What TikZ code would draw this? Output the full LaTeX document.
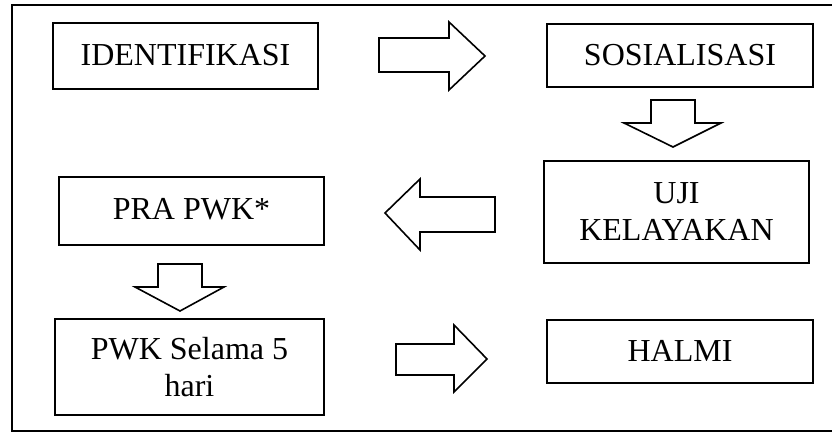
\documentclass[tikz,border=0pt]{standalone}
\usepackage{fontspec}
\setmainfont{Liberation Serif}
\begin{document}
\begin{tikzpicture}[x=1pt,y=-1pt,
  box/.style={draw, line width=1.7pt, inner sep=0pt, align=center, font=\fontsize{32}{37}\selectfont},
  blockarrow/.style={draw, line width=1.6pt, line join=miter}]
\useasboundingbox (0,0) rectangle (832,433);
% outer frame (right side outside the picture)
\draw[line width=1.8pt] (834,5) -- (12,5) -- (12,431) -- (834,431);
% boxes
\node[box, minimum width=265pt, minimum height=66pt] (ident) at (185.5,56) {\raisebox{3pt}{IDENTIFIKASI}};
\node[box, minimum width=266pt, minimum height=63pt] (sos) at (680,55.5) {\raisebox{2pt}{SOSIALISASI}};
\node[box, minimum width=265pt, minimum height=102pt] (uji) at (676.5,212) {UJI\\KELAYAKAN};
\node[box, minimum width=265pt, minimum height=68pt] (pra) at (191.5,211) {\raisebox{5pt}{PRA PWK*}};
\node[box, minimum width=269pt, minimum height=96pt] (pwk) at (189.5,367) {PWK Selama 5\\hari};
\node[box, minimum width=266pt, minimum height=63pt] (halmi) at (680,351.5) {\raisebox{2pt}{HALMI}};
% block arrows
\draw[blockarrow] (379,38) -- (449,38) -- (449,22) -- (485,56) -- (449,90) -- (449,72) -- (379,72) -- cycle;
\draw[blockarrow] (651,100) -- (695,100) -- (695,123) -- (721,123) -- (673,147) -- (624,123) -- (651,123) -- cycle;
\draw[blockarrow] (495,197) -- (420,197) -- (420,179) -- (385,213) -- (420,250) -- (420,232) -- (495,232) -- cycle;
\draw[blockarrow] (158,264) -- (202,264) -- (202,287) -- (224,287) -- (180,311) -- (135,287) -- (158,287) -- cycle;
\draw[blockarrow] (396,344) -- (454,344) -- (454,325) -- (487,359) -- (454,392) -- (454,375) -- (396,375) -- cycle;
\end{tikzpicture}
\end{document}
